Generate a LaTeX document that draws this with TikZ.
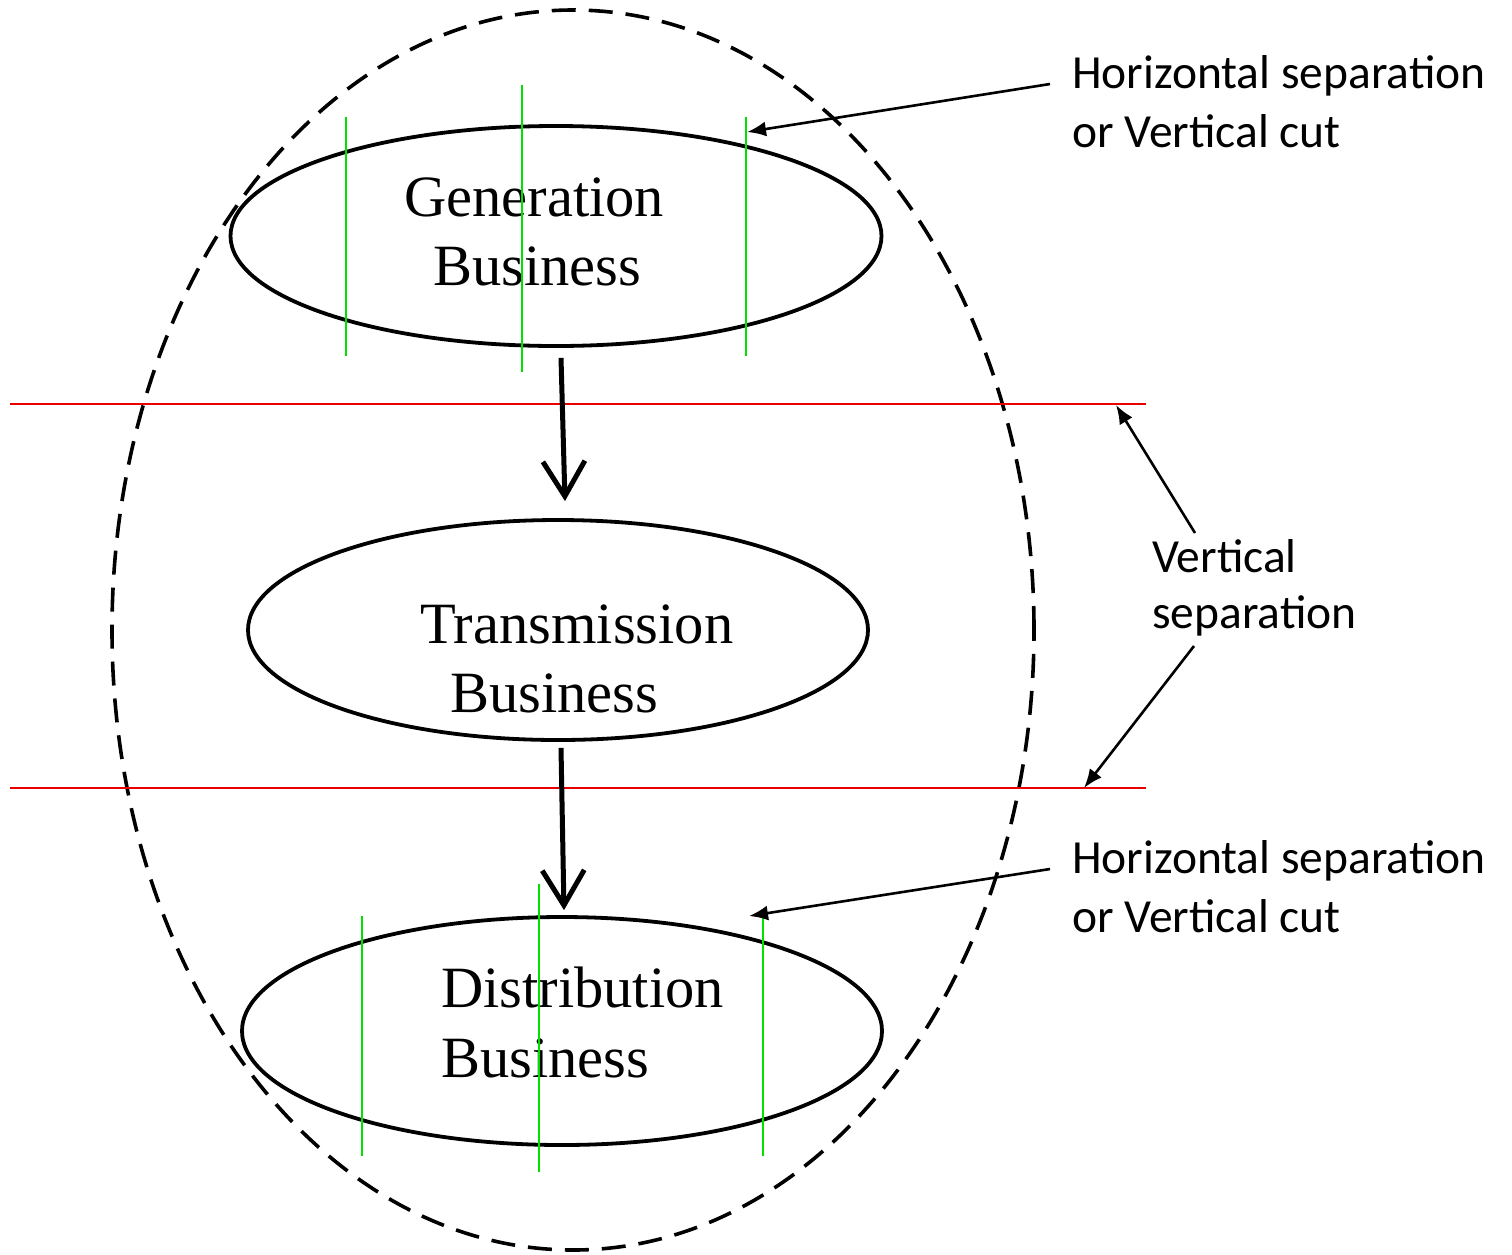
\documentclass[tikz,border=0pt]{standalone}
\usepackage{fontspec}
\setmainfont{Liberation Serif}
\newfontfamily\calib{Carlito}
\usetikzlibrary{arrows.meta,shapes.geometric}
\definecolor{gline}{RGB}{0,225,0}
\definecolor{rline}{RGB}{235,0,0}
\begin{document}
\begin{tikzpicture}[x=1pt,y=-1pt,
  ell/.style={draw,ellipse,line width=3.8pt,inner sep=0pt},
  outerell/.style={draw,ellipse,line width=3.6pt,inner sep=0pt,dash pattern=on 24pt off 13pt},
  biz/.style={font=\fontsize{58.5}{69}\selectfont,inner sep=0pt,anchor=base west},
  lab/.style={font=\calib\fontsize{47.5}{58}\selectfont,inner sep=0pt,anchor=base west},
  flow/.style={line width=5pt,-{Straight Barb[length=35pt,width=42pt]}},
  pointer/.style={line width=2.6pt,-{Latex[length=19pt,width=15pt]}},
  sepline/.style={rline,line width=2pt},
  cutline/.style={gline,line width=2.4pt}
]
\useasboundingbox (0,0) rectangle (1512,1254);

% outer dashed ellipse
\node[outerell,minimum width=922pt,minimum height=1240pt] (outer) at (573,630) {};

% business ellipses
\node[ell,minimum width=651pt,minimum height=220pt] (gen) at (556,236) {};
\node[ell,minimum width=620pt,minimum height=220pt] (tra) at (558,630) {};
\node[ell,minimum width=640pt,minimum height=228pt] (dis) at (562,1031) {};

% texts
\node[biz] (gen1) at (404,216) {Generation};
\node[biz] (gen2) at (433,285) {Business};
\node[biz] (tra1) at (420,643) {Transmission};
\node[biz] (tra2) at (450,712) {Business};
\node[biz] (dis1) at (441,1007) {Distribution};
\node[biz] (dis2) at (441,1077) {Business};

% red separation lines
\draw[sepline] (10,404) coordinate (r1a) -- (1146,404) coordinate (r1b);
\draw[sepline] (10,788) coordinate (r2a) -- (1146,788) coordinate (r2b);

% green cut lines
\draw[cutline] (346,117) -- (346,356);
\draw[cutline] (522,85) -- (522,372);
\draw[cutline] (746,117) -- (746,356);
\draw[cutline] (362,916) -- (362,1156);
\draw[cutline] (539,884) -- (539,1172);
\draw[cutline] (763,916) -- (763,1156);

% flow arrows
\draw[flow] ([xshift=5pt,yshift=-10pt]gen.south) -- ([xshift=7pt,yshift=17pt]tra.north);
\draw[flow] ([xshift=3pt,yshift=-6pt]tra.south) -- ([xshift=2pt,yshift=5pt]dis.north);

% labels
\node[lab] (h1a) at (1072,88) {Horizontal separation};
\node[lab] (h1b) at (1072,147) {or Vertical cut};
\node[lab] (v1a) at (1152,572) {Vertical};
\node[lab] (v1b) at (1152,628) {separation};
\node[lab] (h2a) at (1072,873) {Horizontal separation};
\node[lab] (h2b) at (1072,932) {or Vertical cut};

% pointer arrows
\coordinate (p1s) at (1050,84);
\coordinate (p1e) at (747,132);
\coordinate (p2s) at (1050,869);
\coordinate (p2e) at (749,916);
\coordinate (p3s) at (1195,533);
\coordinate (p3e) at (1116,405);
\coordinate (p4s) at (1194,646);
\coordinate (p4e) at (1084,788);
\draw[pointer] (p1s) -- (p1e);
\draw[pointer] (p2s) -- (p2e);
\draw[pointer] (p3s) -- (p3e);
\draw[pointer] (p4s) -- (p4e);
\end{tikzpicture}
\end{document}
